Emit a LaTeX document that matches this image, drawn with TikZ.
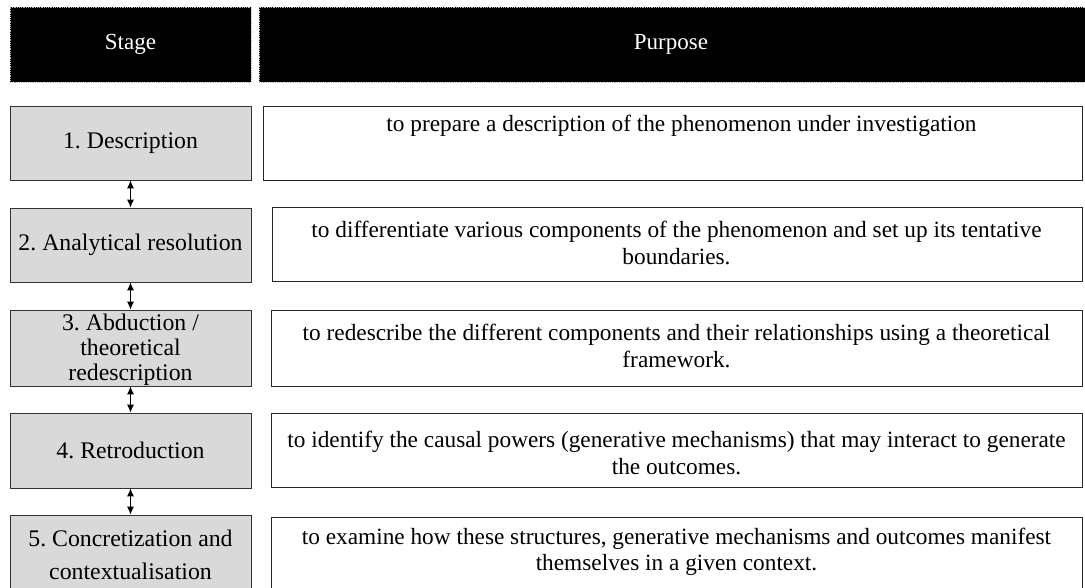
\documentclass[tikz,border=0pt]{standalone}
\usepackage{fontspec}
\setmainfont{Liberation Serif}
\usetikzlibrary{arrows.meta}
\frenchspacing
\begin{document}
\begin{tikzpicture}[x=1pt,y=-1pt,
  hdr/.style={fill=black, draw=gray!55, densely dotted, line width=0.8pt, inner sep=0},
  hdrtext/.style={text=white, inner sep=0, font=\fontsize{23}{27}\selectfont},
  lbox/.style={fill=black!15, draw=black!80, line width=0.9pt, inner sep=0, minimum width=241pt},
  ltext/.style={align=center, inner sep=0, font=\fontsize{23.8}{25}\selectfont},
  rbox/.style={fill=white, draw=black!85, line width=0.9pt, inner sep=0},
  rtext/.style={align=center, inner sep=0, font=\fontsize{23.3}{26.5}\selectfont},
  link/.style={{Latex[length=8pt,width=7pt]}-{Latex[length=8pt,width=7pt]}, line width=1pt}
]
\useasboundingbox (0,0) rectangle (1085,588);
% headers
\node[hdr, minimum width=241pt, minimum height=75pt] (hs) at (130.5,44.5) {};
\node[hdrtext] (hst) at (hs) {Stage};
\node[hdr, minimum width=831pt, minimum height=75pt] (hp) at (674.5,44.5) {};
\node[hdrtext] (hpt) at (671,44.5) {Purpose};
% left stage boxes
\node[lbox, minimum height=74pt] (s1) at (130.5,143) {};
\node[lbox, minimum height=74pt] (s2) at (130.5,245) {};
\node[lbox, minimum height=76pt] (s3) at (130.5,348) {};
\node[lbox, minimum height=75pt] (s4) at (130.5,450.5) {};
\node[lbox, minimum height=80pt] (s5) at (130.5,555) {};
\node[ltext] (t1) at (s1) {1. Description};
\node[ltext] (t2) at (s2) {2. Analytical resolution};
\node[ltext] (t3) at (130.5,350) {3. Abduction /\\theoretical\\redescription};
\node[ltext] (t4) at (s4) {4. Retroduction};
\node[ltext, font=\fontsize{23.8}{33}\selectfont] (t5) at (130.5,555) {5. Concretization and\\contextualisation};
% right purpose boxes
\node[rbox, minimum width=819pt, minimum height=74pt] (p1) at (672.5,143) {};
\node[rbox, minimum width=810pt, minimum height=74pt] (p2) at (677,244) {};
\node[rbox, minimum width=811pt, minimum height=76pt] (p3) at (676.5,348) {};
\node[rbox, minimum width=811pt, minimum height=74pt] (p4) at (676.5,450) {};
\node[rbox, minimum width=811pt, minimum height=80pt] (p5) at (676.5,557) {};
\node[rtext] (q1) at (681.5,126) {to prepare a description of the phenomenon under investigation};
\node[rtext] (q2) at (676.5,243) {to differentiate various components of the phenomenon and set up its tentative\\boundaries.};
\node[rtext] (q3) at (676.5,346) {to redescribe the different components and their relationships using a theoretical\\framework.};
\node[rtext] (q4) at (676.5,453) {to identify the causal powers (generative mechanisms) that may interact to generate\\the outcomes.};
\node[rtext] (q5) at (676.5,552) {to examine how these structures, generative mechanisms and outcomes manifest\\themselves in a given context.};
% connectors
\draw[link] (s1.south) -- (s2.north);
\draw[link] (s2.south) -- (s3.north);
\draw[link] (s3.south) -- (s4.north);
\draw[link] (s4.south) -- (s5.north);
\end{tikzpicture}
\end{document}
